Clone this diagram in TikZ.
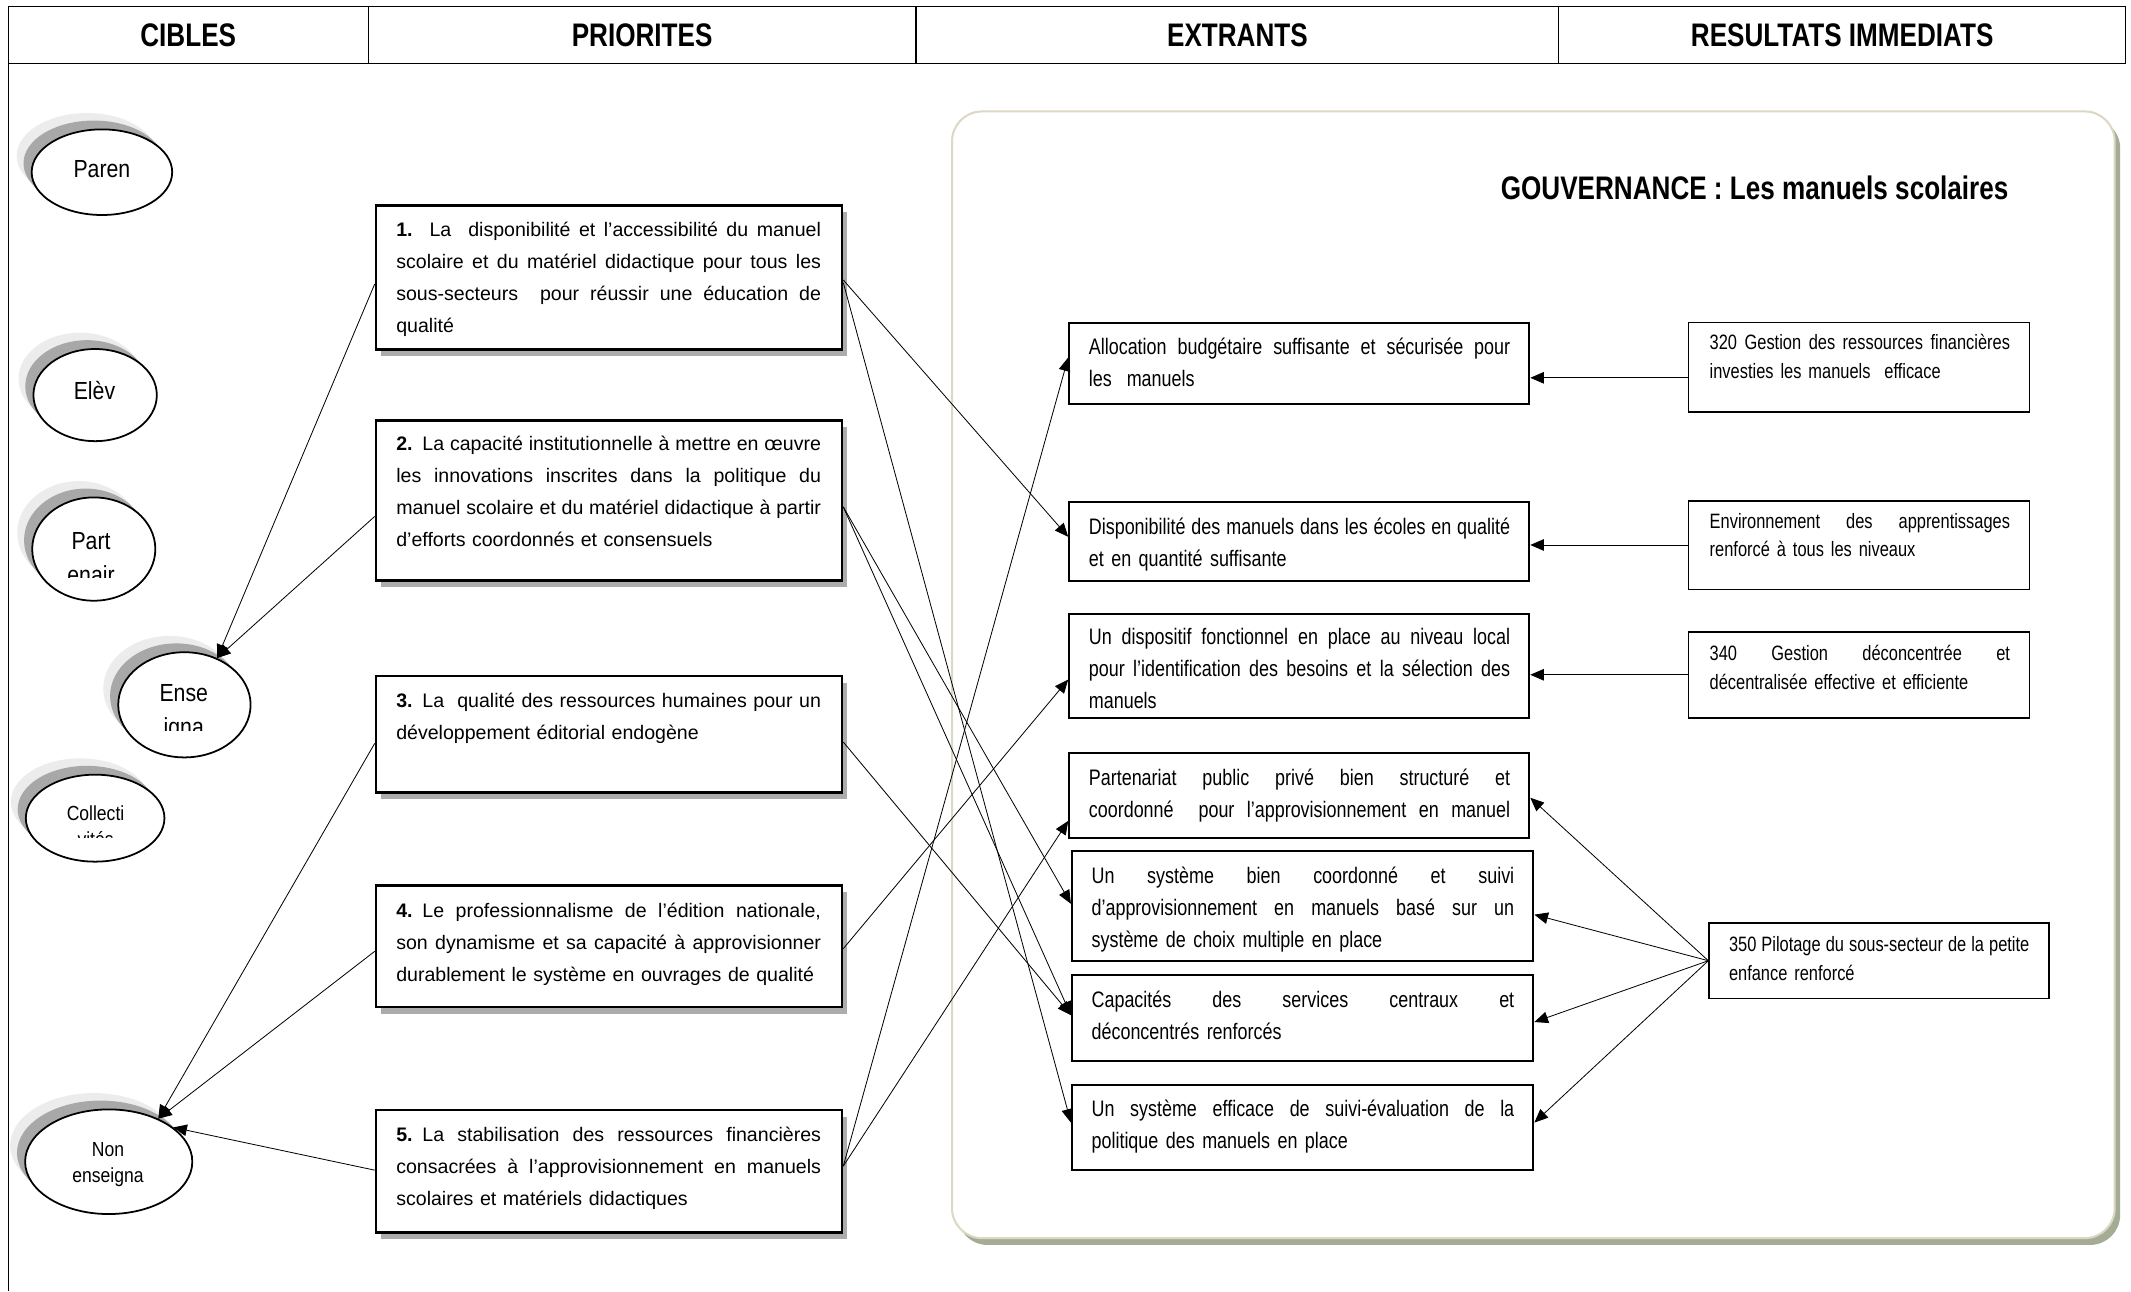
\documentclass[tikz,border=0pt]{standalone}
\usepackage{fontspec}
\setmainfont{Liberation Sans}
\newfontfamily\efont{Liberation Sans}[FakeStretch=0.80]
\newfontfamily\rfont{Liberation Sans}[FakeStretch=0.79]
\newfontfamily\cfont{Liberation Sans}[FakeStretch=0.86]
\newfontfamily\hfont{Liberation Sans}[FakeStretch=0.80]
\usetikzlibrary{shapes.geometric,arrows.meta,calc,shadows}
\definecolor{shadowgray}{HTML}{A8A8A8}
\definecolor{lightshadow}{HTML}{ECECEC}
\definecolor{frameline}{HTML}{DCD8C4}
\definecolor{frameshadow}{HTML}{A4AC95}
\newcommand\jlin[1]{\noindent\hbox to\hsize{\spaceskip=\fontdimen2\font plus 1fil minus \fontdimen4\font\relax #1}\par}
\newcommand\llin[1]{\noindent\hbox to\hsize{#1\hfil}\par}
\tikzset{
  pbox/.style={draw, line width=2pt, fill=white, anchor=north west, inner sep=0pt,
    drop shadow={shadow xshift=3.5pt, shadow yshift=-5pt, fill=gray!65, opacity=1}},
  ebox/.style={draw, line width=1.4pt, fill=white, anchor=north west, inner sep=0pt},
  rbox/.style={draw, line width=1.3pt, fill=white, anchor=north west, inner sep=0pt},
  ptxt/.style={anchor=base west, inner sep=0pt, text width=312.5pt, font=\fontsize{14.4}{23.5}\selectfont},
  etxt/.style={anchor=base west, inner sep=0pt, text width=#1, font=\efont\fontsize{16.5}{23.5}\selectfont},
  rtxt/.style={anchor=base west, inner sep=0pt, text width=221pt, font=\rfont\fontsize{15.3}{21}\selectfont},
  hdr/.style={inner sep=0pt, font=\hfont\bfseries\fontsize{24}{28}\selectfont},
  cib/.style={ellipse, draw, line width=1.3pt, fill=white, inner sep=0pt},
  ctxt/.style={anchor=base, inner sep=0pt, font=\cfont\fontsize{18.2}{22}\selectfont},
  csmall/.style={anchor=base, inner sep=0pt, font=\cfont\fontsize{15}{19}\selectfont},
  conn/.style={line width=0.6pt, -{Triangle[length=10pt,width=8.5pt]}},
}
\newcommand\cible[5]{%
  \fill[lightshadow] ($(#2,#3)+(-11,-12)$) ellipse [x radius=#4pt, y radius=#5pt];
  \fill[shadowgray] ($(#2,#3)+(-6,-6.5)$) ellipse [x radius=#4pt, y radius=#5pt];
  \node[cib, minimum width=2*#4pt, minimum height=2*#5pt] (#1) at (#2,#3) {};
}
\begin{document}
\begin{tikzpicture}[x=1pt,y=-1pt]
\useasboundingbox (0,0) rectangle (1568,950);
\fill[white] (0,0) rectangle (1568,950);

% header
\draw[line width=0.8pt] (6,5) rectangle (1564,47);
\draw[line width=0.8pt] (271,5) -- (271,47) (674,5) -- (674,47) (1147,5) -- (1147,47);
\draw[line width=0.8pt] (6,47) -- (6,950);
\node[hdr] (hcib) at (138.5,26) {CIBLES};
\node[hdr] (hpri) at (472.5,26) {PRIORITES};
\node[hdr] (hext) at (910.5,26) {EXTRANTS};
\node[hdr] (hres) at (1355.5,26) {RESULTATS IMMEDIATS};

% governance frame
\fill[frameshadow, rounded corners=22pt] (704.5,87) rectangle (1560,916);
\draw[frameline, fill=white, line width=1.5pt, rounded corners=22pt] (700.5,82) rectangle (1556,911);
\node[hdr, anchor=base east] (gouv) at (1478,147) {GOUVERNANCE : Les manuels scolaires};

% cibles
\cible{paren}{75}{126.7}{51.7}{31.5}
\cible{elev}{70}{290.7}{45.4}{33.9}
\cible{part}{69}{404}{45.3}{38}
\cible{ens}{135.7}{518.6}{48.7}{38.7}
\cible{coll}{70}{602}{51}{32}
\cible{non}{80}{854.8}{61.5}{38.5}
\node[ctxt] (parent) at (75,130.5) {Paren};
\node[ctxt] (elevt) at (69.5,293.6) {Elèv};
\begin{scope}
  \clip (20,380) rectangle (120,425);
  \node[ctxt] (partt) at (67,404) {Part};
  \node[ctxt] (partu) at (67,429) {enair};
\end{scope}
\begin{scope}
  \clip (90,490) rectangle (185,537.7);
  \node[ctxt] (enst) at (135.2,516.3) {Ense};
  \node[ctxt] (ensu) at (135.2,541) {igna};
\end{scope}
\begin{scope}
  \clip (20,580) rectangle (122,616.5);
  \node[csmall] (collt) at (70.3,603.4) {Collecti};
  \node[csmall] (collu) at (70.3,622.5) {vités};
\end{scope}
\node[csmall] (nont) at (79.5,850.6) {Non};
\node[csmall] (nonu) at (79.5,870) {enseigna};

% priorities
\node[pbox, minimum width=342.8pt, minimum height=106pt] (p1) at (275.7,150) {};
\node[pbox, minimum width=342.8pt, minimum height=117.7pt] (p2) at (275.7,308.3) {};
\node[pbox, minimum width=342.8pt, minimum height=85.5pt] (p3) at (275.7,496.5) {};
\node[pbox, minimum width=342.8pt, minimum height=89.5pt] (p4) at (275.7,650.5) {};
\node[pbox, minimum width=342.8pt, minimum height=90.3pt] (p5) at (275.7,815.7) {};
\node[ptxt] (p1t) at ($(p1.north west)+(15.7,24)$) {%
  \jlin{\textbf{1.}\ \ La\ \ disponibilité et l’accessibilité du manuel}
  \jlin{scolaire et du matériel didactique pour tous les}
  \jlin{sous-secteurs\ \ pour réussir une éducation de}
  \llin{qualité}};
\node[ptxt] (p2t) at ($(p2.north west)+(15.7,23.5)$) {%
  \jlin{\textbf{2.} La capacité institutionnelle à mettre en œuvre}
  \jlin{les innovations inscrites dans la politique du}
  \jlin{manuel scolaire et du matériel didactique à partir}
  \llin{d’efforts coordonnés et consensuels}};
\node[ptxt] (p3t) at ($(p3.north west)+(15.7,24)$) {%
  \jlin{\textbf{3.} La\ \ qualité des ressources humaines pour un}
  \llin{développement éditorial endogène}};
\node[ptxt] (p4t) at ($(p4.north west)+(15.7,24.5)$) {%
  \jlin{\textbf{4.} Le professionnalisme de l’édition nationale,}
  \jlin{son dynamisme et sa capacité à approvisionner}
  \llin{durablement le système en ouvrages de qualité}};
\node[ptxt] (p5t) at ($(p5.north west)+(15.7,24.5)$) {%
  \jlin{\textbf{5.} La stabilisation des ressources financières}
  \jlin{consacrées à l’approvisionnement en manuels}
  \llin{scolaires et matériels didactiques}};

% extrants
\node[ebox, minimum width=338.6pt, minimum height=59.9pt] (e1) at (786,236.7) {};
\node[ebox, minimum width=338.6pt, minimum height=58.2pt] (e2) at (786,368.7) {};
\node[ebox, minimum width=338.6pt, minimum height=76.6pt] (e3) at (786,451) {};
\node[ebox, minimum width=338.6pt, minimum height=62.1pt] (e4) at (786,553.5) {};
\node[ebox, minimum width=339.6pt, minimum height=80.4pt] (e5) at (788,625.7) {};
\node[ebox, minimum width=339.6pt, minimum height=63.1pt] (e6) at (788,717) {};
\node[ebox, minimum width=339.6pt, minimum height=62.8pt] (e7) at (788,797.5) {};
\node[etxt=310pt] (e1t) at ($(e1.north west)+(15,24.5)$) {%
  \jlin{Allocation budgétaire suffisante et sécurisée pour}
  \llin{les\ \ manuels}};
\node[etxt=310pt] (e2t) at ($(e2.north west)+(15,24.5)$) {%
  \jlin{Disponibilité des manuels dans les écoles en qualité}
  \llin{et en quantité suffisante}};
\node[etxt=310pt] (e3t) at ($(e3.north west)+(15,23)$) {%
  \jlin{Un dispositif fonctionnel en place au niveau local}
  \jlin{pour l’identification des besoins et la sélection des}
  \llin{manuels}};
\node[etxt=310pt] (e4t) at ($(e4.north west)+(15,24.2)$) {%
  \jlin{Partenariat public privé bien structuré et}
  \jlin{coordonné\ \ pour l’approvisionnement en manuel}};
\node[etxt=311pt] (e5t) at ($(e5.north west)+(15,24.4)$) {%
  \jlin{Un système bien coordonné et suivi}
  \jlin{d’approvisionnement en manuels basé sur un}
  \llin{système de choix multiple en place}};
\node[etxt=311pt] (e6t) at ($(e6.north west)+(15,24.4)$) {%
  \jlin{Capacités des services centraux et}
  \llin{déconcentrés renforcés}};
\node[etxt=311pt] (e7t) at ($(e7.north west)+(15,24.3)$) {%
  \jlin{Un système efficace de suivi-évaluation de la}
  \llin{politique des manuels en place}};

% resultats
\node[rbox, minimum width=250.9pt, minimum height=65.6pt] (r1) at (1241.8,236.7) {};
\node[rbox, minimum width=250.9pt, minimum height=65.3pt] (r2) at (1241.8,367.8) {};
\node[rbox, minimum width=250.9pt, minimum height=63.2pt] (r3) at (1241.8,464.5) {};
\node[rbox, minimum width=250.2pt, minimum height=55.7pt] (r4) at (1257,678.4) {};
\node[rtxt] (r1t) at ($(r1.north west)+(16,20.6)$) {%
  \jlin{320 Gestion des ressources financières}
  \llin{investies les manuels\ \ efficace}};
\node[rtxt] (r2t) at ($(r2.north west)+(16,21)$) {%
  \jlin{Environnement des apprentissages}
  \llin{renforcé à tous les niveaux}};
\node[rtxt] (r3t) at ($(r3.north west)+(16,21.5)$) {%
  \jlin{340 Gestion déconcentrée et}
  \llin{décentralisée effective et efficiente}};
\node[rtxt] (r4t) at ($(r4.north west)+(15,22)$) {%
  \jlin{350 Pilotage du sous-secteur de la petite}
  \llin{enfance renforcé}};

% connectors: resultats -> extrants
\draw[conn] (r1.west |- 0,278) -- (e1.east |- 0,278);
\draw[conn] (r2.west |- 0,401) -- (e2.east |- 0,401);
\draw[conn] (r3.west |- 0,496.5) -- (e3.east |- 0,496.5);
\draw[conn] (r4.west) -- (e4.east |- 0,587);
\draw[conn] (r4.west) -- (e5.east |- 0,673);
\draw[conn] (r4.west) -- (e6.east |- 0,752);
\draw[conn] (r4.west) -- (e7.east |- 0,826);

% connectors: priorites -> extrants
\draw[conn] (p1.east |- 0,206) -- (e2.west |- 0,395);
\draw[conn] (p1.east |- 0,208) -- (e7.west |- 0,826);
\draw[conn] (p2.east |- 0,373) -- (e5.west |- 0,665);
\draw[conn] (p2.east |- 0,373) -- (e6.west |- 0,747);
\draw[conn] (p3.east |- 0,546) -- (e6.west |- 0,747);
\draw[conn] (p4.east |- 0,698) -- (e3.west |- 0,500);
\draw[conn] (p5.east |- 0,858) -- (e1.west |- 0,263);
\draw[conn] (p5.east |- 0,858) -- (e4.west |- 0,604);

% connectors: priorites -> cibles
\draw[conn] (p1.west |- 0,209) -- (ens.55);
\draw[conn] (p2.west |- 0,380) -- (ens.55);
\draw[conn] (p3.west |- 0,547) -- (non.41);
\draw[conn] (p4.west |- 0,700) -- (non.41);
\draw[conn] (p5.west |- 0,861) -- (non.28);
\end{tikzpicture}
\end{document}
